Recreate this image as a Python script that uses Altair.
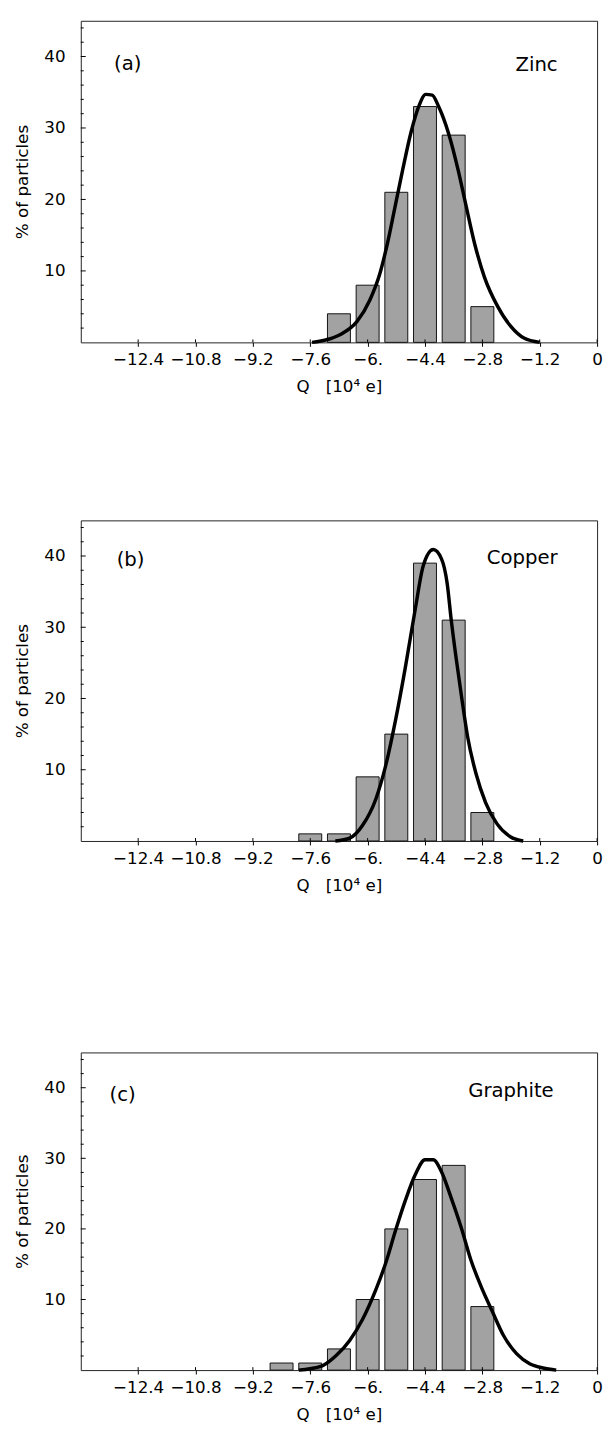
import json
import altair as alt
import pandas as pd

FONT = "DejaVu Sans"

# ---- data ----
centers_a = [-6.8, -6.0, -5.2, -4.4, -3.6, -2.8]
pct_a = [4, 8, 21, 33, 29, 5]
curve_a_q = [-7.55, -7.12, -6.76, -6.3, -5.94, -5.66, -5.45, -5.25, -5.02, -4.79, -4.56,
             -4.38, -4.2, -4.02, -3.74, -3.47, -3.28, -3.01, -2.74, -2.37, -2.0, -1.64, -1.2]
curve_a_p = [0, 0.4, 1.1, 2.9, 5.9, 9.6, 13.8, 18.6, 24.2, 29.4, 33.2,
             34.7, 34.6, 33.0, 29.2, 24.0, 19.7, 13.7, 9.1, 5.0, 2.2, 0.6, 0]

centers_b = [-7.6, -6.8, -6.0, -5.2, -4.4, -3.6, -2.8]
pct_b = [1, 1, 9, 15, 39, 31, 4]
curve_b_q = [-6.9, -6.5, -6.14, -5.77, -5.5, -5.22, -4.95, -4.67, -4.45, -4.17,
             -3.94, -3.78, -3.67, -3.53, -3.39, -3.21, -2.98, -2.71, -2.39, -2.02, -1.66]
curve_b_p = [0, 0.4, 2.2, 5.9, 10.5, 17.0, 24.3, 32.6, 38.6, 40.9,
             39.6, 36.1, 31.1, 25.6, 20.6, 14.6, 9.5, 5.4, 2.4, 0.6, 0]

centers_c = [-8.4, -7.6, -6.8, -6.0, -5.2, -4.4, -3.6, -2.8]
pct_c = [1, 1, 3, 10, 20, 27, 29, 9]
curve_c_q = [-7.92, -7.6, -7.23, -6.87, -6.5, -6.14, -5.77, -5.5, -5.22, -4.95, -4.67,
             -4.4, -4.17, -3.94, -3.67, -3.39, -3.12, -2.84, -2.53, -2.21, -1.84, -1.48, -1.11, -0.74]
curve_c_p = [0, 0.2, 0.7, 2.1, 4.2, 7.2, 11.4, 15.1, 19.8, 24.0, 27.7,
             29.8, 29.8, 28.1, 24.4, 20.2, 15.6, 11.9, 8.4, 4.9, 2.3, 0.9, 0.3, 0]

x_tick_values = [-12.4, -10.8, -9.2, -7.6, -6.0, -4.4, -2.8, -1.2, 0.4]
x_tick_labels = ["\u221212.4", "\u221210.8", "\u22129.2", "\u22127.6", "\u22126.",
                 "\u22124.4", "\u22122.8", "\u22121.2", "0"]
y_tick_values = [10, 20, 30, 40]
y_minor_values = [2, 4, 6, 8, 12, 14, 16, 18, 22, 24, 26, 28, 32, 34, 36, 38, 42, 44]

tags = ["(a)", "(b)", "(c)"]
names = ["Zinc", "Copper", "Graphite"]
x_title = "Q\u00a0\u00a0\u00a0[10\u2074\u00a0e]"
y_title = "% of particles"

W = 525
label_expr = (json.dumps(x_tick_labels, ensure_ascii=False)
              + "[indexof(" + json.dumps(x_tick_values) + ", datum.value)]")


def panel(centers, pct, cq, cp, tag, name, h, tag_pos, name_pos):
    bars = pd.DataFrame({"c": centers, "p": pct})
    bars["lo"] = bars["c"] - 0.32
    bars["hi"] = bars["c"] + 0.32
    bars["z"] = 0
    curve = pd.DataFrame({"q": cq, "p": cp})

    xs = alt.Scale(domain=[-14, 0.4], nice=False, zero=False)
    ys = alt.Scale(domain=[0, 45], nice=False)
    xaxis = alt.Axis(values=x_tick_values, labelExpr=label_expr, title=x_title,
                     tickSize=4, labelPadding=6, titlePadding=11, labelFlush=False,
                     grid=False, domain=False, labelFontSize=17, titleFontSize=17,
                     labelFont=FONT, titleFont=FONT, titleFontWeight="normal",
                     labelColor="black", titleColor="black", tickColor="black")
    yaxis = alt.Axis(values=y_tick_values, title=y_title, ticks=False, tickSize=0,
                     labelPadding=16, titlePadding=13, grid=False, domain=False,
                     labelFontSize=17, titleFontSize=17, labelFont=FONT, titleFont=FONT,
                     titleFontWeight="normal", labelColor="black", titleColor="black")

    bar = alt.Chart(bars).mark_rect(fill="#a2a2a2", stroke="#111111", strokeWidth=1).encode(
        x=alt.X("lo:Q", scale=xs, axis=xaxis), x2="hi:Q",
        y=alt.Y("p:Q", scale=ys, axis=yaxis), y2="z:Q")
    line = alt.Chart(curve).mark_line(color="black", strokeWidth=3.5,
                                      interpolate="monotone").encode(
        x=alt.X("q:Q", scale=xs, axis=xaxis), y=alt.Y("p:Q", scale=ys, axis=yaxis))
    minor = alt.Chart(pd.DataFrame({"p": y_minor_values})).mark_rule(
        color="black", strokeWidth=1).encode(
        y=alt.Y("p:Q", scale=ys, axis=yaxis), x=alt.value(0), x2=alt.value(3))
    major = alt.Chart(pd.DataFrame({"p": y_tick_values})).mark_rule(
        color="black", strokeWidth=1).encode(
        y=alt.Y("p:Q", scale=ys, axis=yaxis), x=alt.value(0), x2=alt.value(5))
    xin = alt.Chart(pd.DataFrame({"q": x_tick_values})).mark_rule(
        color="black", strokeWidth=1).encode(
        x=alt.X("q:Q", scale=xs, axis=xaxis), y=alt.value(h), y2=alt.value(h - 3))
    t1 = alt.Chart(pd.DataFrame({"t": [tag]})).mark_text(
        align="left", baseline="middle", font=FONT, fontSize=20, color="black").encode(
        x=alt.datum(tag_pos[0]), y=alt.datum(tag_pos[1]), text="t:N")
    t2 = alt.Chart(pd.DataFrame({"t": [name]})).mark_text(
        align="right", baseline="alphabetic", font=FONT, fontSize=20, color="black").encode(
        x=alt.datum(name_pos[0]), y=alt.datum(name_pos[1]), text="t:N")
    return alt.layer(bar, line, minor, major, xin, t1, t2).properties(width=W, height=h)


pa = panel(centers_a, pct_a, curve_a_q, curve_a_p, tags[0], names[0], 327,
           (-13.07, 38.9), (-0.70, 38.0))
pb = panel(centers_b, pct_b, curve_b_q, curve_b_p, tags[1], names[1], 326,
           (-13.0, 39.4), (-0.70, 38.9))
pc = panel(centers_c, pct_c, curve_c_q, curve_c_p, tags[2], names[2], 323,
           (-13.2, 39.0), (-0.81, 38.7))

chart = alt.vconcat(alt.vconcat(pa, pb, spacing=126), pc, spacing=160).properties(
    padding={"top": 0, "left": 4, "right": 0, "bottom": 0}, background="white"
).configure_view(stroke="#222222", strokeWidth=1).configure_axis(
    labelFont=FONT, titleFont=FONT, labelFontSize=17, titleFontSize=17,
    labelColor="black", titleColor="black", titleFontWeight="normal", tickColor="black"
)

chart.save("out.html", embed_options={"renderer": "svg", "actions": False})
